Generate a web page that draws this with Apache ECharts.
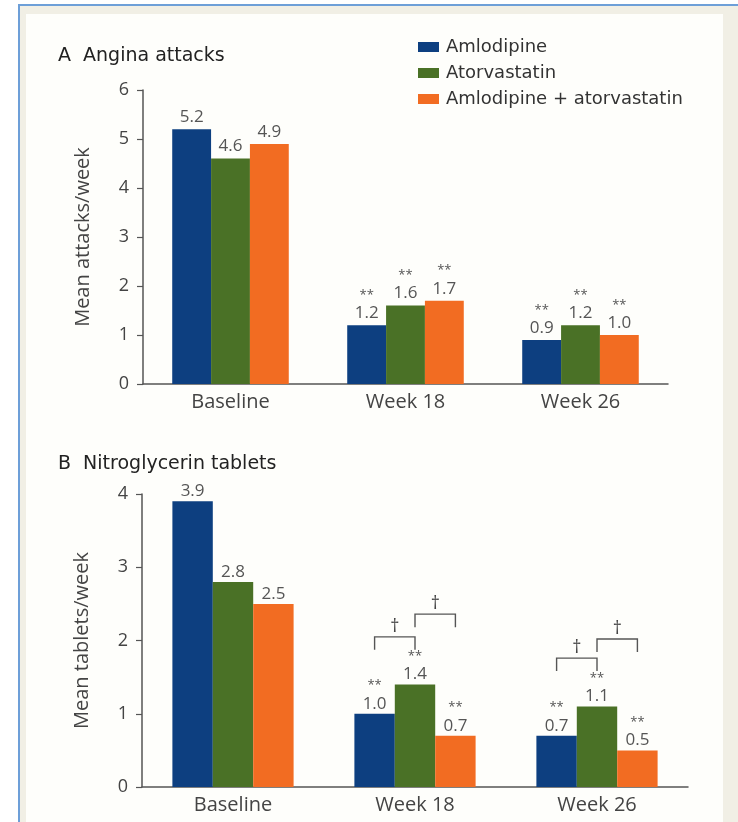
<!DOCTYPE html>
<html>
<head>
<meta charset="utf-8">
<title>Angina attacks and nitroglycerin use</title>
<script src="https://cdn.jsdelivr.net/npm/echarts@6/dist/echarts.min.js"></script>
<style>
  html, body { margin: 0; padding: 0; background: #ffffff; }
  #chart { width: 738px; height: 822px; }
</style>
</head>
<body>
<div id="chart"></div>
<script>
// Treatment groups and visit points
const groups = ['Amlodipine', 'Atorvastatin', 'Amlodipine + atorvastatin'];
const visits = ['Baseline', 'Week 18', 'Week 26'];

// Panel A: mean angina attacks per week
const attacksAmlodipine = [5.2, 1.2, 0.9];
const attacksAtorvastatin = [4.6, 1.6, 1.2];
const attacksCombination = [4.9, 1.7, 1.0];
const attacksTicks = [0, 1, 2, 3, 4, 5, 6];

// Panel B: mean nitroglycerin tablets per week
const tabletsAmlodipine = [3.9, 1.0, 0.7];
const tabletsAtorvastatin = [2.8, 1.4, 1.1];
const tabletsCombination = [2.5, 0.7, 0.5];
const tabletsTicks = [0, 1, 2, 3, 4];

// Visits where each value is flagged ** versus baseline
const starredVisits = ['Week 18', 'Week 26'];

// Between-group comparisons (†): [visit index, from group, to group, bracket height]
const tabletBrackets = [
  [1, 0, 1, 2.05],
  [1, 1, 2, 2.36],
  [2, 0, 1, 1.76],
  [2, 1, 2, 2.02]
];

const colors = ['#0d3f80', '#4a7126', '#f26c22'];
const BAR_RATIO = 0.222;
const FONT = '"Open Sans", "Noto Sans", sans-serif';
const WIDE = '"DejaVu Sans", "Open Sans", sans-serif';

function valueLabel(distance) {
  return {
    show: true,
    position: 'top',
    distance: distance,
    formatter: function (p) {
      const v = p.value.toFixed(1);
      return starredVisits.indexOf(p.name) >= 0 ? '{s|**}\n{v|' + v + '}' : '{v|' + v + '}';
    },
    rich: {
      s: { fontSize: 13, lineHeight: 16, color: '#555', fontFamily: FONT },
      v: { fontSize: 17, lineHeight: 20, color: '#555', fontFamily: FONT }
    }
  };
}

function barSeries(name, data, axisIndex, color, distance) {
  return {
    name: name,
    type: 'bar',
    xAxisIndex: axisIndex,
    yAxisIndex: axisIndex,
    data: data,
    barWidth: (BAR_RATIO * 100) + '%',
    barGap: '0%',
    itemStyle: { color: color },
    label: valueLabel(distance)
  };
}

function yAxis(gridIndex, ticks, name) {
  return {
    type: 'value',
    gridIndex: gridIndex,
    min: ticks[0],
    max: ticks[ticks.length - 1],
    interval: 1,
    name: name,
    nameLocation: 'middle',
    nameGap: 50,
    nameTextStyle: { fontSize: 20, color: '#444', fontFamily: FONT },
    axisLine: { show: true, lineStyle: { color: '#555', width: 1.5 } },
    axisTick: { show: true, length: 6, lineStyle: { color: '#555', width: 1.2 } },
    axisLabel: { fontSize: 18, color: '#444', margin: 14, fontFamily: FONT },
    splitLine: { show: false }
  };
}

function xAxis(gridIndex) {
  return {
    type: 'category',
    gridIndex: gridIndex,
    data: visits,
    axisLine: { show: true, lineStyle: { color: '#555', width: 1.5 } },
    axisTick: { show: false },
    axisLabel: { fontSize: 20, color: '#444', margin: 8, fontFamily: FONT }
  };
}

const chart = echarts.init(document.getElementById('chart'), null, { renderer: 'canvas' });

const option = {
  animation: false,
  backgroundColor: '#ffffff',
  graphic: [
    // page frame: blue rule, cream border, near-white panel
    { type: 'rect', shape: { x: 18, y: 4, width: 720, height: 818 }, style: { fill: '#6d9fd8' }, z: -10 },
    { type: 'rect', shape: { x: 20, y: 6, width: 718, height: 816 }, style: { fill: '#f1efe5' }, z: -9 },
    { type: 'rect', shape: { x: 26, y: 14, width: 697, height: 808 }, style: { fill: '#fefefb' }, z: -8 }
  ],
  title: [
    { text: 'A  Angina attacks', left: 53, top: 42,
      textStyle: { fontSize: 19, fontWeight: 'normal', color: '#222', fontFamily: WIDE } },
    { text: 'B  Nitroglycerin tablets', left: 53, top: 450,
      textStyle: { fontSize: 19, fontWeight: 'normal', color: '#222', fontFamily: WIDE } }
  ],
  legend: {
    orient: 'vertical',
    left: 413,
    top: 33,
    itemWidth: 21,
    itemHeight: 10,
    itemGap: 8,
    icon: 'rect',
    data: groups,
    selectedMode: false,
    textStyle: { fontSize: 18, color: '#333', fontFamily: WIDE, padding: [0, 0, 0, 2] }
  },
  grid: [
    { left: 143, top: 90, width: 525, height: 294 },
    { left: 142, top: 494, width: 546, height: 293 }
  ],
  xAxis: [xAxis(0), xAxis(1)],
  yAxis: [
    yAxis(0, attacksTicks, 'Mean attacks/week'),
    yAxis(1, tabletsTicks, 'Mean tablets/week')
  ],
  series: [
    barSeries(groups[0], attacksAmlodipine, 0, colors[0], 2),
    barSeries(groups[1], attacksAtorvastatin, 0, colors[1], 2),
    barSeries(groups[2], attacksCombination, 0, colors[2], 2),
    barSeries(groups[0], tabletsAmlodipine, 1, colors[0], 0),
    barSeries(groups[1], tabletsAtorvastatin, 1, colors[1], 0),
    barSeries(groups[2], tabletsCombination, 1, colors[2], 0),
    {
      // comparison brackets with dagger markers
      type: 'custom',
      xAxisIndex: 1,
      yAxisIndex: 1,
      data: tabletBrackets,
      silent: true,
      z: 5,
      renderItem: function (params, api) {
        const at = api.coord([api.value(0), api.value(3)]);
        const bw = api.size([1, 0])[0] * BAR_RATIO;
        const x1 = at[0] + (api.value(1) - 1) * bw;
        const x2 = at[0] + (api.value(2) - 1) * bw;
        const y = at[1];
        const leg = 13;
        return {
          type: 'group',
          children: [
            {
              type: 'polyline',
              shape: { points: [[x1, y + leg], [x1, y], [x2, y], [x2, y + leg]] },
              style: { stroke: '#555', lineWidth: 1.4, fill: null }
            },
            {
              type: 'text',
              style: {
                x: (x1 + x2) / 2, y: y - 1,
                text: '\u2020',
                fill: '#444',
                font: '18px ' + FONT,
                align: 'center',
                verticalAlign: 'bottom'
              }
            }
          ]
        };
      }
    }
  ]
};

chart.setOption(option);
</script>
</body>
</html>
